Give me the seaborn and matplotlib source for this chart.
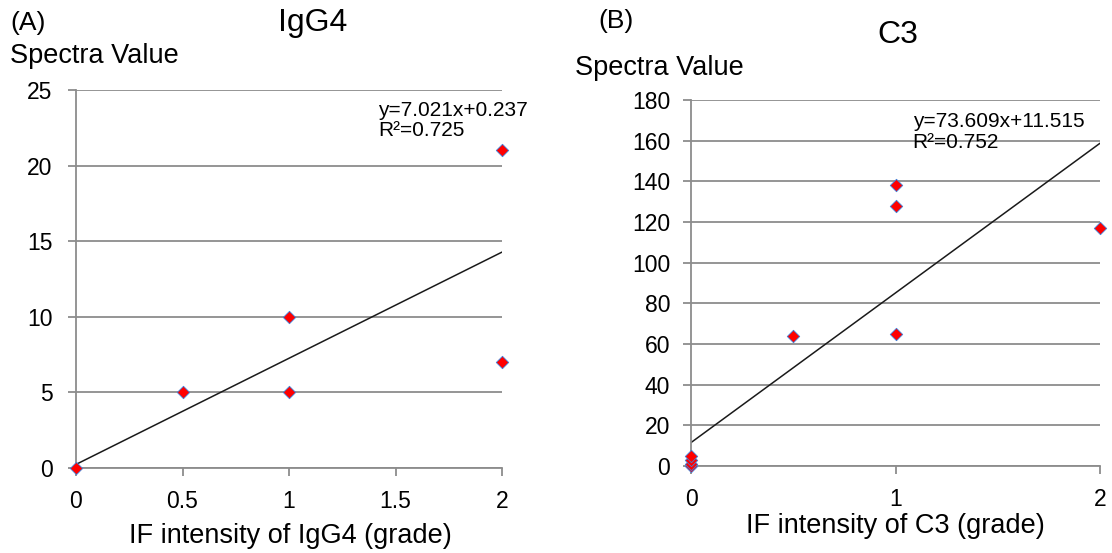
import numpy as np
import pandas as pd
import matplotlib
matplotlib.use("Agg")
import matplotlib.pyplot as plt
import seaborn as sns

#%% données

# (A) IgG4
igg4_grade = [0, 0.5, 1, 1, 2, 2]
igg4_spectra = [0, 5, 5, 10, 21, 7]
igg4_slope, igg4_inter = 7.021, 0.237
igg4_eq = "y=7.021x+0.237"
igg4_r2 = "R²=0.725"

# (B) C3
c3_grade = [0, 0, 0, 0, 0.5, 1, 1, 1, 2]
c3_spectra = [0, 1, 3, 5, 64, 138, 128, 65, 117]
c3_slope, c3_inter = 73.609, 11.515
c3_eq = "y=73.609x+11.515"
c3_r2 = "R²=0.752"

#%% style
sns.set_style("white")
plt.rcParams['font.family'] = ['Liberation Sans', 'DejaVu Sans']
plt.rcParams['text.color'] = 'black'

grid_col = '#8c8c8c'
W, H = 1112, 553

fig = plt.figure(figsize=(11.12, 5.53), dpi=100)


def px_box(x0, x1, y0, y1):
    # convertit des pixels (haut-gauche) en fraction de figure
    return [x0 / W, 1 - y1 / H, (x1 - x0) / W, (y1 - y0) / H]


def panel(ax, gx, sy, slope, inter, xticks, xlabs, ymax, ystep, ypad):
    df = pd.DataFrame({'grade': gx, 'spectra': sy})
    xs = np.array([0, 2])
    fit = pd.DataFrame({'x': xs, 'y': slope * xs + inter})
    sns.lineplot(data=fit, x='x', y='y', ax=ax, color='#1a1a1a', lw=1.1)
    sns.scatterplot(data=df, x='grade', y='spectra', ax=ax, marker='D', s=40,
                    color='#ff0000', edgecolor='#3f7fd8', linewidth=0.6,
                    zorder=5, clip_on=False)
    ax.set_xlim(0, 2)
    ax.set_ylim(0, ymax)
    ax.set_xticks(xticks)
    ax.set_xticklabels(xlabs)
    ax.set_yticks(np.arange(0, ymax + 1, ystep))
    ax.set_xlabel('')
    ax.set_ylabel('')
    ax.yaxis.grid(True, color=grid_col, lw=1.3)
    ax.set_axisbelow(True)
    for s in ['top', 'right']:
        ax.spines[s].set_visible(False)
    for s in ['left', 'bottom']:
        ax.spines[s].set_color(grid_col)
        ax.spines[s].set_linewidth(1.3)
    ax.tick_params(axis='x', direction='out', length=6, width=1.3, color=grid_col,
                   pad=10, labelsize=16.5, labelcolor='black', bottom=True)
    ax.tick_params(axis='y', direction='out', length=6, width=1.3, color=grid_col,
                   pad=ypad, labelsize=16.5, labelcolor='black', left=True)


ax1 = fig.add_axes(px_box(76, 502, 90, 468))
panel(ax1, igg4_grade, igg4_spectra, igg4_slope, igg4_inter,
      [0, 0.5, 1, 1.5, 2], ['0', '0.5', '1', '1.5', '2'], 25, 5, 11)
ax1.text(0.71, 0.945, igg4_eq, transform=ax1.transAxes, fontsize=15, va='center')
ax1.text(0.71, 0.892, igg4_r2, transform=ax1.transAxes, fontsize=15, va='center')

ax2 = fig.add_axes(px_box(691, 1100, 100, 466))
panel(ax2, c3_grade, c3_spectra, c3_slope, c3_inter,
      [0, 1, 2], ['0', '1', '2'], 180, 20, 9)
ax2.text(0.542, 0.94, c3_eq, transform=ax2.transAxes, fontsize=15, va='center')
ax2.text(0.542, 0.883, c3_r2, transform=ax2.transAxes, fontsize=15, va='center')

# titres, étiquettes
fig.text(10 / W, 1 - 23 / H, '(A)', fontsize=19, va='center', ha='left')
fig.text(313 / W, 1 - 23 / H, 'IgG4', fontsize=23, va='center', ha='center')
fig.text(10 / W, 1 - 56 / H, 'Spectra Value', fontsize=19.5, va='center', ha='left')
fig.text(290 / W, 1 - 536 / H, 'IF intensity of IgG4 (grade)', fontsize=19.5,
         va='center', ha='center')

fig.text(598 / W, 1 - 21 / H, '(B)', fontsize=19, va='center', ha='left')
fig.text(898 / W, 1 - 35 / H, 'C3', fontsize=23, va='center', ha='center')
fig.text(575 / W, 1 - 68 / H, 'Spectra Value', fontsize=19.5, va='center', ha='left')
fig.text(895 / W, 1 - 526 / H, 'IF intensity of C3 (grade)', fontsize=19.5,
         va='center', ha='center')

fig.savefig('out.png', dpi=100)
